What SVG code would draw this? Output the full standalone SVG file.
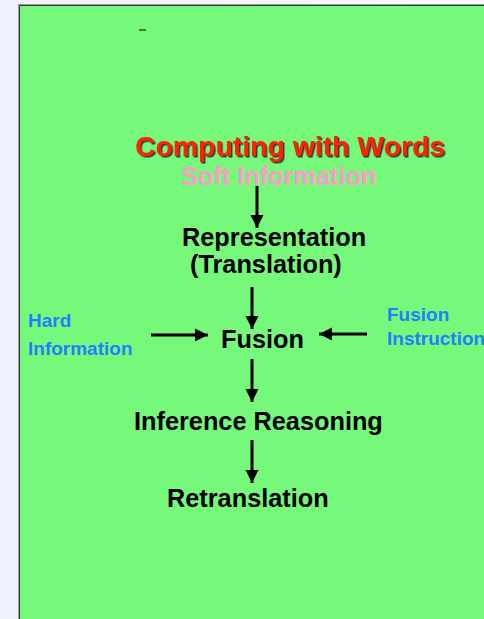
<svg xmlns="http://www.w3.org/2000/svg" width="484" height="619" viewBox="0 0 484 619">
<defs>
<marker id="ah" viewBox="0 0 10 10" refX="10" refY="5" markerWidth="4.4" markerHeight="4.4" markerUnits="strokeWidth" orient="auto">
<path d="M0,0 L10,5 L0,10 z" fill="#000"/>
</marker>
<linearGradient id="bg" x1="0" y1="0" x2="1" y2="0">
<stop offset="0" stop-color="#EEF3FD"/>
<stop offset="1" stop-color="#F8FAFE"/>
</linearGradient>
<filter id="sh" x="-5%" y="-20%" width="110%" height="140%">
<feDropShadow dx="1.5" dy="1.5" stdDeviation="0.3" flood-color="#333" flood-opacity="1"/>
</filter>
</defs>
<style>
.t{font-family:"Liberation Sans",Arial,sans-serif;font-weight:bold;font-size:25.3px;fill:#000}
.b{font-family:"Liberation Sans",Arial,sans-serif;font-weight:bold;font-size:19px;fill:#1E7FFF}
.c{stroke:#000;stroke-width:3;fill:none;marker-end:url(#ah)}
</style>
<rect x="0" y="0" width="484" height="619" fill="url(#bg)"/>
<rect x="18.5" y="4.5" width="480" height="630" fill="#76F97A" stroke="#9aa0a8" stroke-width="1"/>
<path d="M19.5,619 V5.5 H484" fill="none" stroke="#333" stroke-width="1"/>
<rect x="139" y="29" width="7" height="2" fill="#3C7F3C"/>
<g id="title">
<text x="135" y="156" font-family="Liberation Sans,Arial,sans-serif" font-weight="bold" font-size="28.4" fill="#FF2200" filter="url(#sh)">Computing with Words</text>
</g>
<g id="soft"><text x="181" y="185" class="t" style="fill:#FF99CC">Soft Information</text></g>
<g id="representation">
<text x="182" y="246" class="t">Representation</text>
<text x="190" y="273" class="t">(Translation)</text>
</g>
<g id="fusion"><text x="221" y="348" class="t">Fusion</text></g>
<g id="inference"><text x="134" y="430" class="t">Inference Reasoning</text></g>
<g id="retranslation"><text x="167" y="507" class="t">Retranslation</text></g>
<g id="hard">
<text x="28" y="327" class="b">Hard</text>
<text x="28" y="355" class="b">Information</text>
</g>
<g id="instruction">
<text x="387" y="321" class="b">Fusion</text>
<text x="387" y="345" class="b">Instruction</text>
</g>
<g id="connectors">
<line x1="257" y1="186" x2="257" y2="228" class="c"/>
<line x1="252" y1="287" x2="252" y2="329" class="c"/>
<line x1="252" y1="359" x2="252" y2="402" class="c"/>
<line x1="252" y1="440" x2="252" y2="483" class="c"/>
<line x1="151" y1="335" x2="208" y2="335" class="c"/>
<line x1="367" y1="334" x2="319" y2="334" class="c"/>
</g>
</svg>
